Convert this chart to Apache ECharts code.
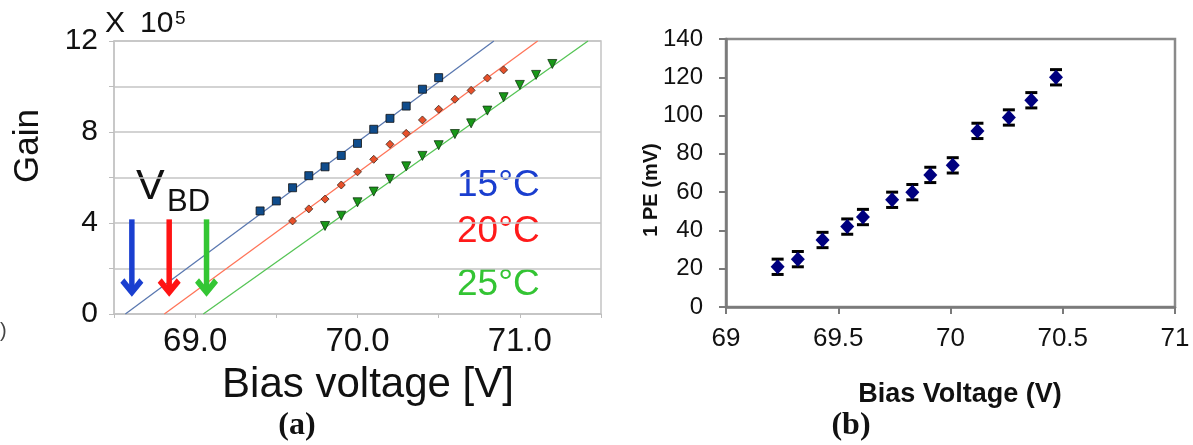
<!DOCTYPE html>
<html><head><meta charset="utf-8">
<script src="https://cdn.jsdelivr.net/npm/echarts@6/dist/echarts.min.js"></script>
<style>html,body{margin:0;padding:0;background:#fff}#c{width:1193px;height:445px}</style>
</head><body><div id="c"></div>
<script>
// ---- Panel (a): Gain vs bias voltage ----
const biasV15 = [69.4,69.5,69.6,69.7,69.8,69.9,70.0,70.1,70.2,70.3,70.4,70.5];
const gain15  = [4.53,4.97,5.55,6.08,6.47,6.97,7.50,8.12,8.60,9.14,9.88,10.39];
const biasV20 = [69.6,69.7,69.8,69.9,70.0,70.1,70.2,70.3,70.4,70.5,70.6,70.7,70.8,70.9];
const gain20  = [4.09,4.62,5.05,5.67,6.25,6.80,7.46,7.94,8.53,9.00,9.44,9.83,10.37,10.73];
const biasV25 = [69.8,69.9,70.0,70.1,70.2,70.3,70.4,70.5,70.6,70.7,70.8,70.9,71.0,71.1,71.2];
const gain25  = [3.87,4.32,4.91,5.38,5.94,6.49,6.95,7.42,7.91,8.38,8.94,9.53,10.07,10.51,10.99];
const fit15 = [[68.57,0],[70.84,12]];
const fit20 = [[68.81,0],[71.11,12]];
const fit25 = [[69.05,0],[71.42,12]];
const vbdArrowV = [68.61,68.84,69.07];
const vbdArrowTop = [4.16,4.16,4.16];
const vbdArrowTip = [0.76,0.76,0.76];
const xLabelsA = ['69.0','70.0','71.0'];
const yLabelsA = ['0','4','8','12'];
const tempLabels = ['15°C','20°C','25°C'];

// ---- Panel (b): 1 PE amplitude vs bias voltage ----
const peV   = [69.23,69.32,69.43,69.54,69.61,69.74,69.83,69.91,70.01,70.12,70.26,70.36,70.47];
const peMv  = [21,25,35,42,47,56,60,69,74,92,99,108,120];
const peErr = [4,4,4,4,4,4,4,4,4,4,4,4,4];
const xLabelsB = ['69','69.5','70','70.5','71'];
const yLabelsB = ['0','20','40','60','80','100','120','140'];

const arrowColors = ['#1a3fd0','#ff1414','#34c634'];
const tempColors = ['#1a3ecf','#ff1a1a','#33c433'];
const SANS = 'Liberation Sans, Arial, sans-serif';
const SERIF = 'Liberation Serif, Times New Roman, serif';

const zip = (a,b) => a.map((v,i)=>[v,b[i]]);

const chart = echarts.init(document.getElementById('c'), null, {renderer:'canvas'});
chart.setOption({
  animation:false,
  backgroundColor:'#fff',
  grid:[
    {left:114, top:41, width:487, height:273, show:true, borderColor:'#c4c4c4', borderWidth:1.5, outerBoundsMode:'none', containLabel:false},
    {left:726, top:39, width:449, height:268, show:true, borderColor:'#8a8a8a', borderWidth:2.5, outerBoundsMode:'none', containLabel:false}
  ],
  xAxis:[
    {gridIndex:0, type:'value', min:68.5, max:71.5, interval:0.5,
     axisLine:{show:true, lineStyle:{color:'#c4c4c4', width:1.5}},
     axisTick:{show:true, length:4, lineStyle:{color:'#bdbdbd'}},
     splitLine:{show:false},
     axisLabel:{fontFamily:SANS, fontSize:33, color:'#111', margin:11,
       formatter:v=>{const s=v.toFixed(1);return xLabelsA.includes(s)?s:'';}}},
    {gridIndex:1, type:'value', min:69, max:71, interval:0.5,
     axisLine:{show:true, lineStyle:{color:'#7a7a7a', width:2.5}},
     axisTick:{show:true, length:7, lineStyle:{color:'#7a7a7a', width:2}},
     splitLine:{show:false},
     axisLabel:{fontFamily:SANS, fontSize:26, color:'#111', margin:19,
       formatter:v=>{const s=String(Math.round(v*10)/10);return xLabelsB.includes(s)?s:'';}}}
  ],
  yAxis:[
    {gridIndex:0, type:'value', min:0, max:12, interval:2,
     axisLine:{show:true, lineStyle:{color:'#c4c4c4', width:1.5}},
     axisTick:{show:true, length:5, lineStyle:{color:'#bdbdbd'}},
     splitLine:{show:true, lineStyle:{color:'#c4c4c4', width:1.5}},
     axisLabel:{fontFamily:SANS, fontSize:30, color:'#111', margin:16,
       formatter:v=>{const s=String(Math.round(v));return yLabelsA.includes(s)?s:'';}}},
    {gridIndex:1, type:'value', min:0, max:140, interval:20,
     axisLine:{show:true, lineStyle:{color:'#7a7a7a', width:2.5}},
     axisTick:{show:true, length:7, lineStyle:{color:'#7a7a7a', width:2}},
     splitLine:{show:false},
     axisLabel:{fontFamily:SANS, fontSize:24, color:'#111', margin:23,
       formatter:v=>{const s=String(Math.round(v));return yLabelsB.includes(s)?s:'';}}}
  ],
  series:[
    {type:'line', xAxisIndex:0, yAxisIndex:0, data:fit15, showSymbol:false, lineStyle:{color:'#5a78b0', width:1.3}, z:2},
    {type:'line', xAxisIndex:0, yAxisIndex:0, data:fit20, showSymbol:false, lineStyle:{color:'#ff7458', width:1.3}, z:2},
    {type:'line', xAxisIndex:0, yAxisIndex:0, data:fit25, showSymbol:false, lineStyle:{color:'#55c455', width:1.3}, z:2},
    {type:'scatter', xAxisIndex:0, yAxisIndex:0, data:zip(biasV15,gain15), symbol:'rect', symbolSize:8,
     itemStyle:{color:'#0f4c8c', borderColor:'#111', borderWidth:0.8, opacity:1}, z:3},
    {type:'scatter', xAxisIndex:0, yAxisIndex:0, data:zip(biasV20,gain20), symbol:'diamond', symbolSize:8,
     itemStyle:{color:'#e8502a', borderColor:'#3a2a20', borderWidth:0.8, opacity:1}, z:3},
    {type:'scatter', xAxisIndex:0, yAxisIndex:0, data:zip(biasV25,gain25), symbol:'triangle', symbolRotate:180, symbolSize:9,
     itemStyle:{color:'#189818', borderColor:'#113311', borderWidth:0.8, opacity:1}, z:3},
    {type:'custom', xAxisIndex:0, yAxisIndex:0, z:4, silent:true,
     data:vbdArrowV.map((v,i)=>[v,vbdArrowTop[i],vbdArrowTip[i],i]),
     encode:{x:0, y:[1,2]},
     renderItem:(params, api)=>{
       const x = api.value(0);
       const top = api.coord([x, api.value(1)]);
       const tip = api.coord([x, api.value(2)]);
       const c = arrowColors[api.value(3)];
       const tx = tip[0], ty = tip[1];
       return {type:'group', children:[
         {type:'line', shape:{x1:top[0], y1:top[1], x2:tx, y2:ty-8}, style:{stroke:c, lineWidth:5.5}},
         {type:'polygon', shape:{points:[[tx,ty],[tx+11.5,ty-14],[tx+7.5,ty-18.5],[tx,ty-9],[tx-7.5,ty-18.5],[tx-11.5,ty-14]]}, style:{fill:c}}
       ]};
     }},
    {type:'custom', xAxisIndex:1, yAxisIndex:1, z:3, silent:true,
     data:peV.map((v,i)=>[v,peMv[i],peErr[i]]),
     encode:{x:0, y:1},
     renderItem:(params, api)=>{
       const x = api.value(0), y = api.value(1), e = api.value(2);
       const hi = api.coord([x, y+e]);
       const lo = api.coord([x, y-e]);
       const cx = hi[0], hw = 6;
       return {type:'group', children:[
         {type:'line', shape:{x1:cx, y1:hi[1], x2:cx, y2:lo[1]}, style:{stroke:'#000', lineWidth:2.5}},
         {type:'line', shape:{x1:cx-hw, y1:hi[1], x2:cx+hw, y2:hi[1]}, style:{stroke:'#000', lineWidth:3}},
         {type:'line', shape:{x1:cx-hw, y1:lo[1], x2:cx+hw, y2:lo[1]}, style:{stroke:'#000', lineWidth:3}}
       ]};
     }},
    {type:'scatter', xAxisIndex:1, yAxisIndex:1, data:zip(peV,peMv), symbol:'diamond', symbolSize:[14,15],
     itemStyle:{color:'#00007f', opacity:1}, z:5}
  ],
  graphic:[
    {type:'text', x:105, y:24, style:{text:'X', font:'30px '+SANS, fill:'#111', align:'left', verticalAlign:'middle'}},
    {type:'text', x:140, y:24, style:{text:'10', font:'30px '+SANS, fill:'#111', align:'left', verticalAlign:'middle'}},
    {type:'text', x:175, y:19, style:{text:'5', font:'19px '+SANS, fill:'#111', align:'left', verticalAlign:'middle'}},
    {type:'text', x:28, y:146, rotation:Math.PI/2, style:{text:'Gain', font:'35px '+SANS, fill:'#111', align:'center', verticalAlign:'middle'}},
    {type:'text', x:136, y:187, style:{text:'V', font:'43px '+SANS, fill:'#111', align:'left', verticalAlign:'middle'}},
    {type:'text', x:167, y:202, style:{text:'BD', font:'31px '+SANS, fill:'#111', align:'left', verticalAlign:'middle'}},
    {type:'text', x:457, y:186, style:{text:tempLabels[0], font:'37px '+SANS, fill:tempColors[0], align:'left', verticalAlign:'middle'}},
    {type:'text', x:457, y:232, style:{text:tempLabels[1], font:'37px '+SANS, fill:tempColors[1], align:'left', verticalAlign:'middle'}},
    {type:'text', x:457, y:285, style:{text:tempLabels[2], font:'37px '+SANS, fill:tempColors[2], align:'left', verticalAlign:'middle'}},
    {type:'text', x:368, y:385, style:{text:'Bias voltage [V]', font:'42px '+SANS, fill:'#111', align:'center', verticalAlign:'middle'}},
    {type:'text', x:297, y:426, style:{text:'(a)', font:'bold 32px '+SERIF, fill:'#111', align:'center', verticalAlign:'middle'}},
    {type:'text', x:0, y:331, style:{text:')', font:'20px '+SANS, fill:'#444', align:'left', verticalAlign:'middle'}},
    {type:'text', x:651, y:190, rotation:Math.PI/2, style:{text:'1 PE (mV)', font:'bold 20px '+SANS, fill:'#111', align:'center', verticalAlign:'middle'}},
    {type:'text', x:960, y:395, style:{text:'Bias Voltage (V)', font:'bold 27px '+SANS, fill:'#111', align:'center', verticalAlign:'middle'}},
    {type:'text', x:851, y:426, style:{text:'(b)', font:'bold 32px '+SERIF, fill:'#111', align:'center', verticalAlign:'middle'}}
  ]
});
</script></body></html>
